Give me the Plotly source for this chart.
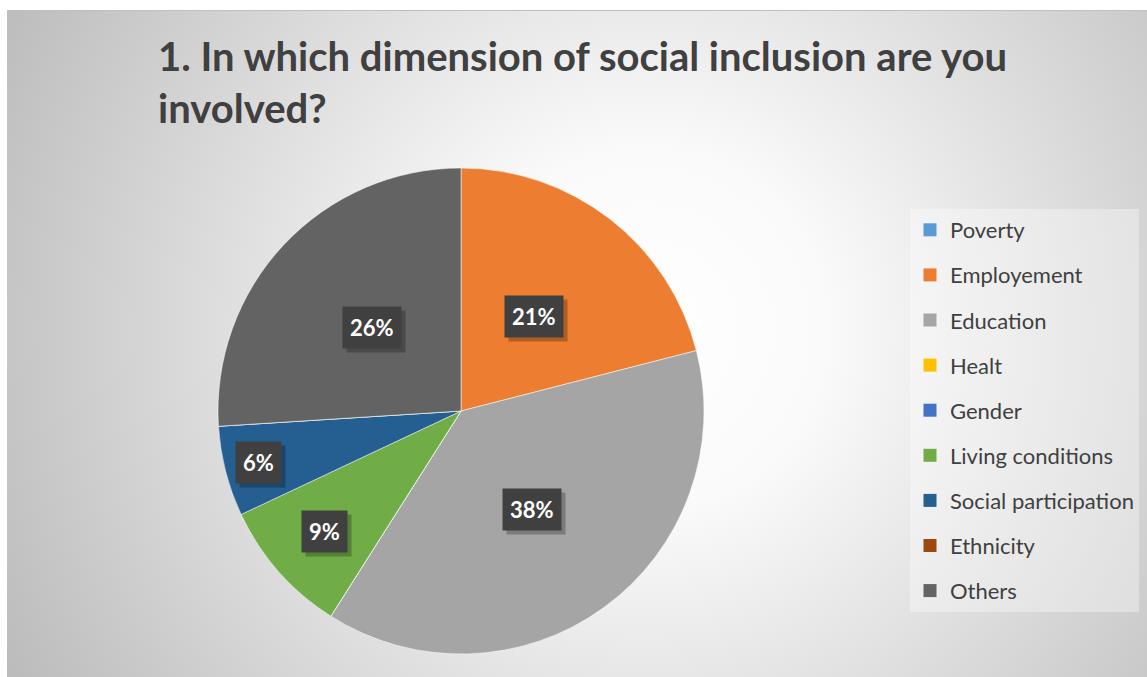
import math
import base64
import plotly.graph_objects as go

# ---- data ----
categories = ["Poverty", "Employement", "Education", "Healt", "Gender",
              "Living conditions", "Social participation", "Ethnicity", "Others"]
values = [0, 21, 38, 0, 0, 9, 6, 0, 26]
colors = ["#5B9BD5", "#ED7D31", "#A5A5A5", "#FFC000", "#4472C4",
          "#70AD47", "#255E91", "#9E480E", "#636363"]
# radial placement of the data labels (fraction of radius), style only
label_radius = [0.5, 0.49, 0.5, 0.5, 0.5, 0.75, 0.86, 0.5, 0.5]
title_text = "1. In which dimension of social inclusion are you<br>involved?"

W, H = 1147, 677
CX, CY, R = 461, 411, 243  # pie centre / radius in pixels

fig = go.Figure()

fig.add_trace(go.Pie(
    labels=categories, values=values, sort=False, direction="clockwise",
    rotation=0, textinfo="none", showlegend=False,
    marker=dict(colors=colors, line=dict(color="rgba(255,255,255,0.5)", width=1)),
    domain=dict(x=[(CX - R) / W, (CX + R) / W],
                y=[(H - CY - R) / H, (H - CY + R) / H]),
))

# legend entries
for i, (c, col) in enumerate(zip(categories, colors)):
    fig.add_trace(go.Scatter(
        x=[None], y=[None], mode="markers", name=c, legendgroup=f"g{i}",
        marker=dict(symbol="square", size=13, color=col), showlegend=True,
    ))

# data labels
total = sum(values)
cum = 0
annotations = []
for v, f in zip(values, label_radius):
    if v > 0:
        mid = (cum + v / 2) / total * 2 * math.pi
        px = CX + R * f * math.sin(mid)
        py = CY - R * f * math.cos(mid)
        txt = f"<b>{round(v / total * 100)}%</b>"
        # shadow
        annotations.append(dict(
            x=(px + 4) / W, y=1 - (py + 4) / H, xref="paper", yref="paper",
            text=txt, showarrow=False, font=dict(family="Lato", size=22, color="rgba(0,0,0,0)"),
            bgcolor="rgba(0,0,0,0.25)", borderpad=7, xanchor="center", yanchor="middle"))
        annotations.append(dict(
            x=px / W, y=1 - py / H, xref="paper", yref="paper",
            text=txt, showarrow=False, font=dict(family="Lato", size=22, color="white"),
            bgcolor="#404040", borderpad=7, xanchor="center", yanchor="middle"))
    cum += v

# background gradient as SVG image
svg = f'''<svg xmlns="http://www.w3.org/2000/svg" width="1140" height="667">
<defs><radialGradient id="g" gradientUnits="userSpaceOnUse" cx="640" cy="320" r="720">
<stop offset="0" stop-color="#ffffff"/><stop offset="0.25" stop-color="#fafafa"/>
<stop offset="1" stop-color="#bcbcbc"/></radialGradient></defs>
<rect x="0" y="0" width="1140" height="667" fill="url(#g)"/>
<line x1="0" y1="0.5" x2="1140" y2="0.5" stroke="#bfbfbf" stroke-width="1"/>
</svg>'''
src = "data:image/svg+xml;base64," + base64.b64encode(svg.encode()).decode()

fig.update_layout(
    width=W, height=H,
    margin=dict(l=0, r=0, t=0, b=0),
    paper_bgcolor="white", plot_bgcolor="rgba(0,0,0,0)",
    xaxis=dict(visible=False), yaxis=dict(visible=False),
    images=[dict(source=src, xref="paper", yref="paper", x=7 / W, y=1 - 10 / H,
                 sizex=1140 / W, sizey=667 / H, sizing="stretch",
                 xanchor="left", yanchor="top", layer="below")],
    title=dict(text=f"<b>{title_text}</b>", x=158 / W, xanchor="left",
               y=1 - 71 / H, yanchor="top", xref="paper", yref="container",
               font=dict(family="Lato", size=40, color="#404040")),
    legend=dict(x=910 / W, xanchor="left", y=1 - 209 / H, yanchor="top",
                bgcolor="rgba(255,255,255,0.35)", tracegroupgap=13.5,
                font=dict(family="Lato", size=22, color="#404040"),
                itemclick=False, itemdoubleclick=False),
    annotations=annotations,
    showlegend=True,
)

fig.write_html("out.html")
